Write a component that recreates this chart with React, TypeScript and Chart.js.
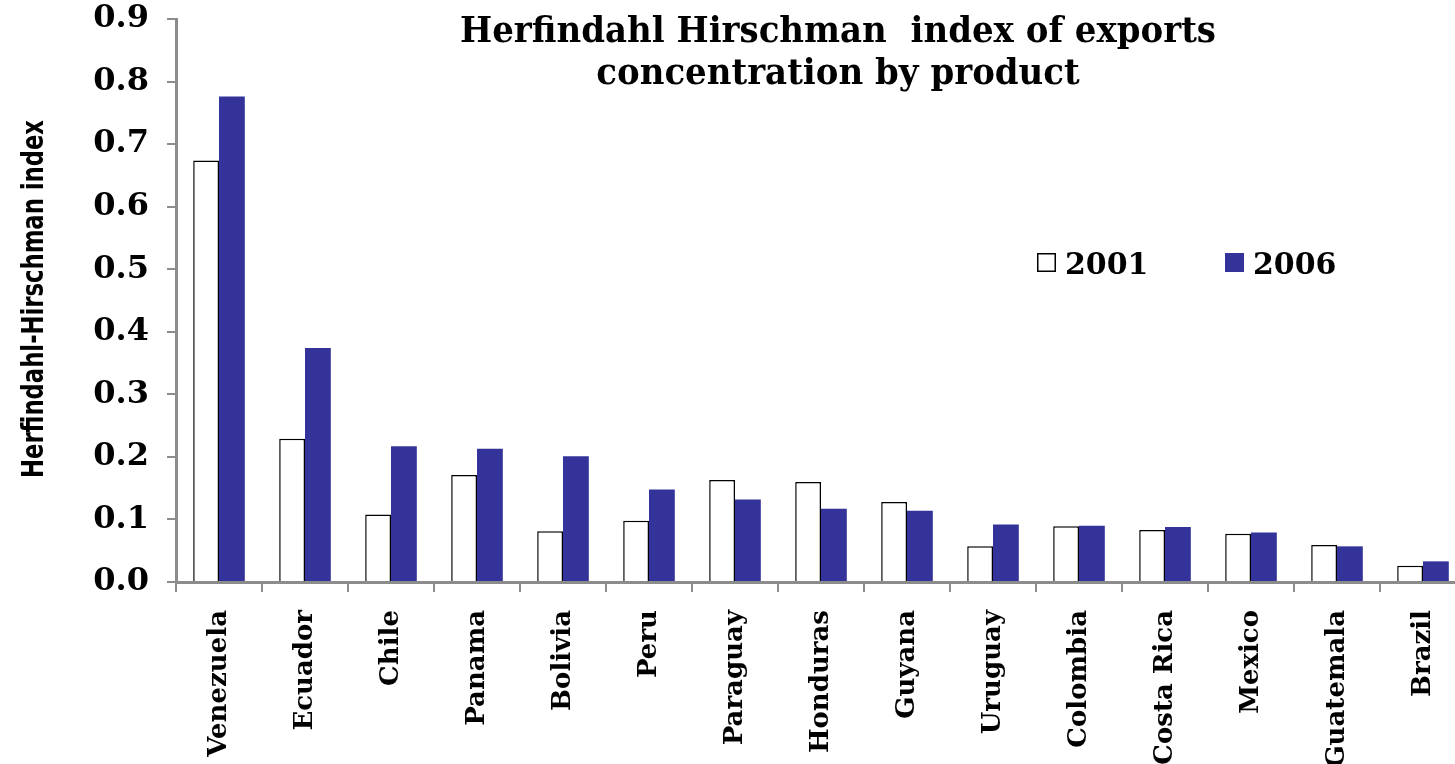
import React, { useEffect, useRef } from "react";
import { Chart, registerables } from "chart.js";

Chart.register(...registerables);

const countries = [
  "Venezuela", "Ecuador", "Chile", "Panama", "Bolivia", "Peru", "Paraguay",
  "Honduras", "Guyana", "Uruguay", "Colombia", "Costa Rica", "Mexico", "Guatemala", "Brazil",
];
const hhi2001 = [0.674, 0.229, 0.108, 0.171, 0.081, 0.098, 0.163, 0.160, 0.128, 0.057, 0.089, 0.083, 0.077, 0.059, 0.026];
const hhi2006 = [0.776, 0.374, 0.217, 0.213, 0.201, 0.148, 0.132, 0.117, 0.114, 0.092, 0.090, 0.088, 0.079, 0.057, 0.033];
const yTicks = [0, 0.1, 0.2, 0.3, 0.4, 0.5, 0.6, 0.7, 0.8, 0.9];
const titleLines = ["Herfindahl Hirschman  index of exports", "concentration by product"];
const yAxisTitle = "Herfindahl-Hirschman index";

const SERIF = "'DejaVu Serif', 'Liberation Serif', serif";
const SERIF_COND = "'DejaVu Serif Condensed', 'DejaVu Serif', serif";
const SANS_COND = "'DejaVu Sans Condensed', 'Liberation Sans', sans-serif";

const overlayPlugin = {
  id: "overlay",
  afterDraw(chart: any) {
    const ctx = chart.ctx;
    ctx.save();
    // Title (two lines, fitted to width)
    ctx.fillStyle = "#000";
    ctx.textBaseline = "alphabetic";
    ctx.font = `bold 35px ${SERIF_COND}`;
    const w1 = ctx.measureText(titleLines[0]).width;
    const sx = 756 / w1;
    const cx = 838;
    titleLines.forEach((line, i) => {
      ctx.save();
      ctx.translate(cx, 42 + i * 42);
      ctx.scale(sx, 1);
      ctx.textAlign = "center";
      ctx.fillText(line, 0, 0);
      ctx.restore();
    });
    // Y axis title (rotated, fitted to length)
    ctx.save();
    ctx.font = `bold 30px ${SANS_COND}`;
    const wy = ctx.measureText(yAxisTitle).width;
    const sy = 358 / wy;
    ctx.translate(43, 299);
    ctx.rotate(-Math.PI / 2);
    ctx.scale(sy, 1);
    ctx.textAlign = "center";
    ctx.fillText(yAxisTitle, 0, 0);
    ctx.restore();
    // Legend
    const items = chart.data.datasets;
    const xs = [1037, 1225];
    items.forEach((ds: any, i: number) => {
      const x = xs[i];
      const y = 253;
      ctx.fillStyle = ds.backgroundColor;
      ctx.fillRect(x, y, 19, 19);
      if (ds.borderWidth) {
        ctx.strokeStyle = ds.borderColor;
        ctx.lineWidth = 1.5;
        ctx.strokeRect(x + 0.75, y + 0.75, 17.5, 17.5);
      }
      ctx.fillStyle = "#000";
      ctx.textAlign = "left";
      ctx.font = `bold 30px ${SERIF}`;
      ctx.fillText(ds.label, x + 28, y + 21);
    });
    ctx.restore();
  },
};

export default function App() {
  const ref = useRef<HTMLCanvasElement | null>(null);
  useEffect(() => {
    if (!ref.current) return;
    const chart = new Chart(ref.current, {
      type: "bar",
      data: {
        labels: countries,
        datasets: [
          {
            label: "2001",
            data: hhi2001,
            backgroundColor: "#ffffff",
            borderColor: "#000000",
            borderWidth: 1.5,
            borderSkipped: "bottom",
          },
          {
            label: "2006",
            data: hhi2006,
            backgroundColor: "#333399",
            borderWidth: 0,
          },
        ],
      },
      options: {
        responsive: false,
        animation: false,
        devicePixelRatio: 1,
        layout: { padding: { top: 19, right: 0, left: 0, bottom: 0 } },
        plugins: {
          legend: { display: false },
          title: { display: false },
          tooltip: { enabled: false },
        },
        datasets: { bar: { categoryPercentage: 0.6, barPercentage: 1 } },
        scales: {
          x: {
            afterFit: (s: any) => {
              s.height = 182;
              s.paddingLeft = 0;
              s.paddingRight = 0;
            },
            grid: {
              drawOnChartArea: false,
              drawTicks: true,
              tickLength: 10,
              color: "#8c8c8c",
              lineWidth: 2,
              offset: true,
            },
            border: { color: "#8c8c8c", width: 3 },
            ticks: {
              maxRotation: 90,
              minRotation: 90,
              autoSkip: false,
              padding: 18,
              color: "#000",
              font: { family: SERIF, size: 26, weight: "bold" },
            },
          },
          y: {
            min: 0,
            max: 0.9,
            afterFit: (s: any) => {
              s.width = 176;
              s.paddingTop = 0;
              s.paddingBottom = 0;
            },
            afterBuildTicks: (s: any) => { s.ticks = yTicks.map((v) => ({ value: v })); },
            grid: {
              drawOnChartArea: false,
              drawTicks: true,
              tickLength: 9,
              color: "#8c8c8c",
              lineWidth: 2,
            },
            border: { color: "#8c8c8c", width: 3 },
            ticks: {
              padding: 18,
              color: "#000",
              font: { family: SERIF, size: 32, weight: "bold" },
              callback: (v: any) => Number(v).toFixed(1),
            },
          },
        },
      },
      plugins: [overlayPlugin],
    });
    return () => chart.destroy();
  }, []);
  return (
    <div style={{ position: "absolute", left: 0, top: 0, width: 1455, height: 764, overflow: "hidden", background: "#fff" }}>
      <canvas ref={ref} width={1466} height={764} style={{ display: "block" }} />
    </div>
  );
}
